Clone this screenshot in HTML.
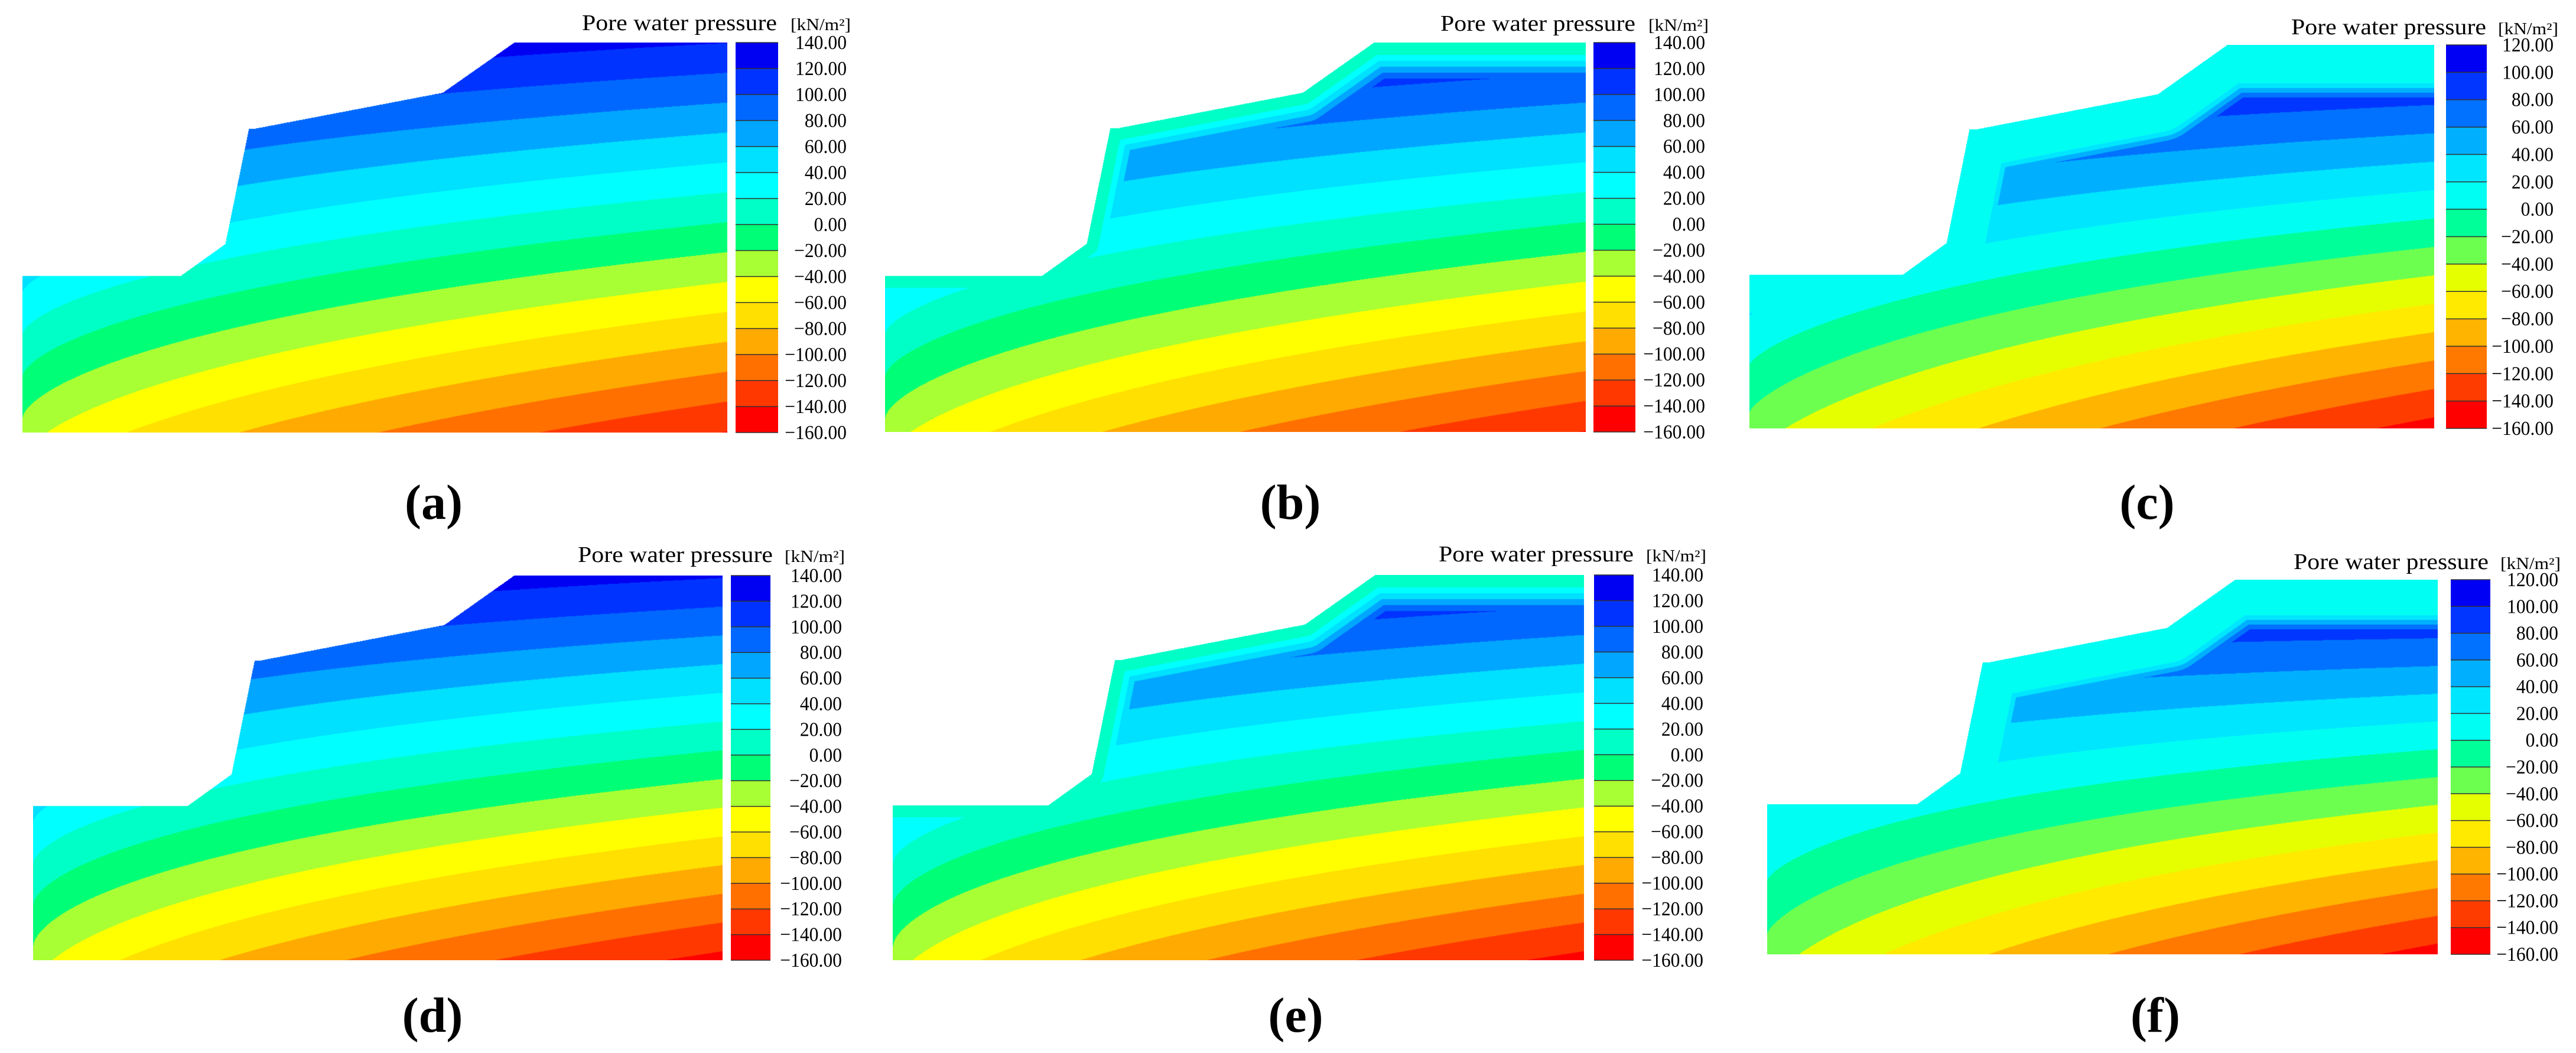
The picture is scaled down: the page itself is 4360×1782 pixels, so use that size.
<!DOCTYPE html>
<html><head><meta charset="utf-8">
<style>
html,body{margin:0;padding:0;background:#fff;}
#root{position:relative;width:4360px;height:1782px;overflow:hidden;background:#fff;}
canvas{position:absolute;}
svg{position:absolute;left:0;top:0;}
text{font-family:"Liberation Serif",serif;fill:#000;}
</style></head>
<body>
<div id="root">
<svg id="ov" width="4360" height="1782">
  <g id="cbars"></g>
  <text x="985" y="51" font-size="38" textLength="330" lengthAdjust="spacingAndGlyphs">Pore water pressure</text>
  <text x="2438" y="52" font-size="38" textLength="330" lengthAdjust="spacingAndGlyphs">Pore water pressure</text>
  <text x="3878" y="58" font-size="38" textLength="330" lengthAdjust="spacingAndGlyphs">Pore water pressure</text>
  <text x="978" y="951" font-size="38" textLength="330" lengthAdjust="spacingAndGlyphs">Pore water pressure</text>
  <text x="2435" y="950" font-size="38" textLength="330" lengthAdjust="spacingAndGlyphs">Pore water pressure</text>
  <text x="3882" y="963" font-size="38" textLength="330" lengthAdjust="spacingAndGlyphs">Pore water pressure</text>
  <text x="1338" y="51" font-size="28" textLength="102" lengthAdjust="spacingAndGlyphs">[kN/m²]</text>
  <text x="2790" y="52" font-size="28" textLength="102" lengthAdjust="spacingAndGlyphs">[kN/m²]</text>
  <text x="4228" y="58" font-size="28" textLength="102" lengthAdjust="spacingAndGlyphs">[kN/m²]</text>
  <text x="1328" y="951" font-size="28" textLength="102" lengthAdjust="spacingAndGlyphs">[kN/m²]</text>
  <text x="2786" y="950" font-size="28" textLength="102" lengthAdjust="spacingAndGlyphs">[kN/m²]</text>
  <text x="4232" y="963" font-size="28" textLength="102" lengthAdjust="spacingAndGlyphs">[kN/m²]</text>
  <text x="734" y="878" font-size="84" font-weight="bold" text-anchor="middle">(a)</text>
  <text x="2184" y="878" font-size="84" font-weight="bold" text-anchor="middle">(b)</text>
  <text x="3634" y="878" font-size="84" font-weight="bold" text-anchor="middle">(c)</text>
  <text x="732" y="1746" font-size="84" font-weight="bold" text-anchor="middle">(d)</text>
  <text x="2193" y="1746" font-size="84" font-weight="bold" text-anchor="middle">(e)</text>
  <text x="3648" y="1746" font-size="84" font-weight="bold" text-anchor="middle">(f)</text>
</svg>
</div>
<script>
// ---- data ----
const panelIds = ['a','b','c','d','e','f'];
const topLevel = [140, 140, 120, 140, 140, 120];
const levelStep = 20;
const pressureLeft = [159.5, 158, 134, 159.7, 158, 112];
const pressureRight = [120, 120, 122, 121.5, 121.5, 122];
const gradientLeft = [-187, -185, -161, -187, -185, -140];
const gradientRight = [-261, -261, -270, -268, -268, -270];
const curvature = [0.65, 0.65, 0.75, 0.62, 0.62, 0.75];
const wetSurface = [0, 10, 10, 0, 10, 10];
const wetThickness = [0, 15, 60, 0, 15, 55];
const wetRate = [0, 2, 2.5, 0, 2, 2.5];
const colors15 = ['#0000f2','#0033ff','#0068ff','#00a6ff','#00e0ff','#00ffff','#00ffc6','#00ff77','#a8ff33','#ffff00','#ffe000','#ffaa00','#ff7000','#ff3800','#ff0000'];
const colors14 = ['#0000f5','#0036ff','#0072ff','#00b0ff','#00e6ff','#00fff2','#00ff99','#6cff50','#e6ff00','#ffea00','#ffb400','#ff7800','#ff3c00','#ff0000'];
const surfU = [0, 0.224, 0.2875, 0.321, 0.330, 0.596, 0.697, 1];
const surfV = [0.598, 0.598, 0.516, 0.22, 0.22, 0.128, 0, 0];

// ---- layout ----
const layout = {
 a:{l:38,t:72,r:1231,b:732,cl:1245,cr:1317,lr:1433},
 b:{l:1498,t:72,r:2684,b:731,cl:2697,cr:2768,lr:2886},
 c:{l:2961,t:76,r:4120,b:725,cl:4140,cr:4209,lr:4322},
 d:{l:56,t:974,r:1223,b:1625,cl:1237,cr:1304,lr:1425},
 e:{l:1511,t:973,r:2681,b:1625,cl:2698,cr:2765,lr:2883},
 f:{l:2991,t:981,r:4126,b:1615,cl:4148,cr:4215,lr:4330}
};
const NS='http://www.w3.org/2000/svg';
const root=document.getElementById('root');
const cbars=document.getElementById('cbars');
function hex(c){return [parseInt(c.substr(1,2),16),parseInt(c.substr(3,2),16),parseInt(c.substr(5,2),16)];}
function fmt(v){return (v<0?'\u2212':'')+Math.abs(v).toFixed(2);}

panelIds.forEach((id,i)=>{
  const L=layout[id];
  const W=L.r-L.l, H=L.b-L.t;
  const cols=(topLevel[i]===140?colors15:colors14);
  const rgb=cols.map(hex);
  const nb=cols.length;
  const cv=document.createElement('canvas');
  
  
  cv.width=W;cv.height=H;cv.style.left=L.l+'px';cv.style.top=L.t+'px';
  root.insertBefore(cv,root.firstChild);
  const ctx=cv.getContext('2d');
  const img=ctx.createImageData(W,H);
  const D=img.data;
  const px=surfU.map(u=>u*W), py=surfV.map(v=>v*H);
  const segs=[];
  for(let k=0;k<px.length-1;k++)segs.push([px[k],py[k],px[k+1],py[k+1]]);
  function surfY(x){
    for(let k=0;k<px.length-1;k++){
      if(x>=px[k]&&x<=px[k+1]){const t=(px[k+1]-px[k])?(x-px[k])/(px[k+1]-px[k]):0;return py[k]+t*(py[k+1]-py[k]);}
    }return 0;
  }
  function dist(x,y){
    let best=1e9;
    for(const s of segs){
      const dx=s[2]-s[0],dy=s[3]-s[1];
      const l2=dx*dx+dy*dy;
      let t=l2?((x-s[0])*dx+(y-s[1])*dy)/l2:0;t=Math.max(0,Math.min(1,t));
      const ex=s[0]+t*dx-x,ey=s[1]+t*dy-y;const d=ex*ex+ey*ey;if(d<best)best=d;
    }
    return Math.sqrt(best);
  }
  for(let x=0;x<W;x++){
    const u=x/W;
    const f=Math.pow(u,curvature[i]);
    const A=pressureLeft[i]+(pressureRight[i]-pressureLeft[i])*f;
    const G=gradientLeft[i]+(gradientRight[i]-gradientLeft[i])*f;
    const sy=surfY(x);
    for(let y=Math.max(0,Math.floor(sy));y<H;y++){
      if(y<sy)continue;
      const v=y/H;
      let p=A+G*v;
      if(wetRate[i]>0 && p>wetSurface[i]){
        const pw=wetSurface[i]+wetRate[i]*Math.max(0,dist(x,y)-wetThickness[i]);
        if(pw<p)p=pw;
      }
      let bi=Math.floor((topLevel[i]-p)/levelStep);
      if(bi<0)bi=0;if(bi>nb-1)bi=nb-1;
      const o=(y*W+x)*4,c=rgb[bi];
      D[o]=c[0];D[o+1]=c[1];D[o+2]=c[2];D[o+3]=255;
    }
  }
  ctx.putImageData(img,0,0);

  const g=document.createElementNS(NS,'g');
  
  
  cbars.appendChild(g);
  const bh=(L.b-L.t)/nb;
  for(let k=0;k<nb;k++){
    const r=document.createElementNS(NS,'rect');
    
    
    r.setAttribute('x',L.cl);r.setAttribute('y',L.t+k*bh);
    r.setAttribute('width',L.cr-L.cl);r.setAttribute('height',bh+0.5);
    r.setAttribute('fill',cols[k]);
    g.appendChild(r);
  }
  for(let k=0;k<=nb;k++){
    const ln=document.createElementNS(NS,'line');
    
    
    ln.setAttribute('x1',L.cl);ln.setAttribute('x2',L.cr);
    ln.setAttribute('y1',L.t+k*bh);ln.setAttribute('y2',L.t+k*bh);
    ln.setAttribute('stroke','#333');ln.setAttribute('stroke-width','1.5');
    g.appendChild(ln);
    const val=topLevel[i]-k*levelStep;
    const t=document.createElementNS(NS,'text');
    
    
    t.setAttribute('font-size','34');
    t.setAttribute('text-anchor','end');
    t.setAttribute('transform','translate('+L.lr+','+(L.t+k*bh+11)+') scale(0.93,1)');
    t.textContent=fmt(val);
    g.appendChild(t);
  }
});
</script>
</body></html>
